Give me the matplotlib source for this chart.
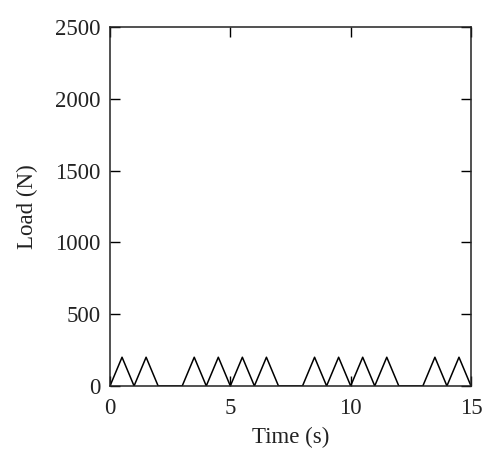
import matplotlib.pyplot as plt

# load pulse vertices (s, N)
time = [0, 0.5, 1, 1.5, 2,
        3, 3.5, 4, 4.5, 5, 5.5, 6, 6.5, 7,
        8, 8.5, 9, 9.5, 10, 10.5, 11, 11.5, 12,
        13, 13.5, 14, 14.5, 15]
load = [0, 200, 0, 200, 0,
        0, 200, 0, 200, 0, 200, 0, 200, 0,
        0, 200, 0, 200, 0, 200, 0, 200, 0,
        0, 200, 0, 200, 0]

x_ticks = [0, 5, 10, 15]
y_ticks = [0, 500, 1000, 1500, 2000, 2500]

plt.rcParams['font.family'] = ['Liberation Serif', 'DejaVu Serif']

fig = plt.figure(figsize=(5, 4.65), dpi=100)
ax = fig.add_axes([0.22, 0.17, 0.722, 0.772])

ax.plot(time, load, color='black', linewidth=1.1)

ax.set_xlim(0, 15)
ax.set_ylim(0, 2500)
ax.set_xticks(x_ticks)
ax.set_yticks(y_ticks)
ax.tick_params(axis='both', direction='in', top=True, right=True,
               length=7, width=1, labelsize=16.5, labelcolor='#222222')
ax.tick_params(axis='x', pad=9)
ax.tick_params(axis='y', pad=7)
for s in ax.spines.values():
    s.set_linewidth(1.1)
    s.set_color('#222222')

ax.set_xlabel('Time (s)', fontsize=16.5, labelpad=5, color='#222222')
ax.set_ylabel('Load (N)', fontsize=16.5, labelpad=12, color='#222222')

fig.savefig('out.png', dpi=100)
